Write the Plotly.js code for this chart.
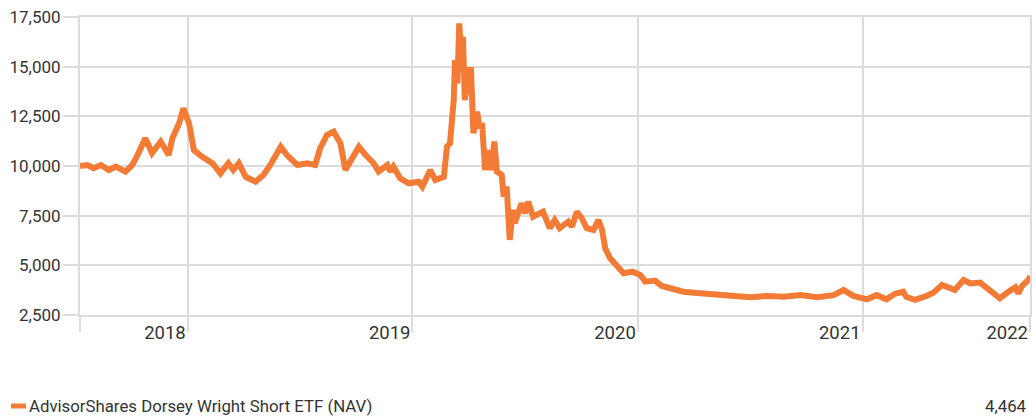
<!DOCTYPE html>
<html>
<head>
<meta charset="utf-8">
<script src="https://cdn.plot.ly/plotly-3.0.1.min.js"></script>
<style>
  html, body { margin: 0; padding: 0; background: #ffffff; }
  #chart { width: 1035px; height: 420px; }
</style>
</head>
<body>
<div id="chart"></div>
<script>
// ---- Data ----
const seriesName = "AdvisorShares Dorsey Wright Short ETF (NAV)";
const lastValueLabel = "4,464";

const navDates = [
  "2018-07-10","2018-07-22","2018-08-01","2018-08-13","2018-08-26","2018-09-06","2018-09-22",
  "2018-10-03","2018-10-13","2018-10-24","2018-11-04","2018-11-18","2018-12-01","2018-12-07",
  "2018-12-18","2018-12-25","2019-01-03","2019-01-11","2019-01-24","2019-02-10","2019-02-23",
  "2019-03-08","2019-03-16","2019-03-25","2019-04-05","2019-04-21","2019-05-04","2019-05-15",
  "2019-06-01","2019-06-11","2019-06-28","2019-07-14","2019-07-27","2019-08-04","2019-08-15",
  "2019-08-26","2019-09-06","2019-09-14","2019-09-22","2019-10-06","2019-10-17","2019-10-30",
  "2019-11-07","2019-11-21","2019-11-26","2019-12-01","2019-12-12","2019-12-26","2020-01-11",
  "2020-01-17","2020-01-30","2020-02-07","2020-02-21","2020-02-26","2020-03-02","2020-03-05",
  "2020-03-08","2020-03-10","2020-03-14","2020-03-17","2020-03-20","2020-03-23","2020-03-26",
  "2020-04-01","2020-04-05","2020-04-09","2020-04-15","2020-04-19","2020-04-23","2020-04-28",
  "2020-05-03","2020-05-08","2020-05-13","2020-05-17","2020-05-25","2020-05-28","2020-06-02",
  "2020-06-07","2020-06-12","2020-06-15","2020-06-26","2020-07-02","2020-07-07","2020-07-15",
  "2020-07-31","2020-08-11","2020-08-19","2020-08-27","2020-09-10","2020-09-16","2020-09-24",
  "2020-10-02","2020-10-10","2020-10-21","2020-10-29","2020-11-04","2020-11-09","2020-11-17",
  "2020-11-28","2020-12-09","2020-12-23","2021-01-05","2021-01-13","2021-01-29","2021-02-09",
  "2021-02-28","2021-03-16","2021-04-12","2021-05-09","2021-06-11","2021-07-03","2021-07-30",
  "2021-08-26","2021-09-22","2021-10-19","2021-11-15","2021-12-01","2021-12-17","2022-01-08",
  "2022-01-24","2022-02-09","2022-02-22","2022-03-08","2022-03-13","2022-03-27","2022-04-12",
  "2022-04-26","2022-05-10","2022-05-20","2022-05-31","2022-06-14","2022-06-25","2022-07-11",
  "2022-07-24","2022-08-12","2022-08-26","2022-09-06","2022-09-11","2022-09-17","2022-09-28",
  "2022-09-30"
];
const navValues = [
  10000,10050,9890,10050,9800,9970,9720,
  10050,10650,11400,10650,11230,10550,11400,
  12150,12900,12150,10800,10470,10140,9630,
  10140,9800,10140,9460,9210,9550,10050,
  10970,10550,10050,10140,10050,10890,11560,
  11730,11140,9800,10220,10970,10550,10140,
  9720,10050,9720,9970,9380,9130,9210,
  8960,9800,9300,9460,10970,11140,11980,
  13320,15330,14160,17180,15660,16500,13320,
  14830,14830,11650,12740,11900,12150,9800,
  10800,9800,11230,9720,9550,8460,8960,
  6280,7790,7120,8120,7620,8200,7450,
  7700,6870,7280,6870,7200,6950,7700,
  7370,6870,6780,7280,6780,5860,5350,
  4930,4600,4680,4510,4180,4230,3960,
  3840,3670,3590,3500,3390,3390,3460,
  3420,3500,3390,3500,3760,3460,3290,
  3500,3290,3560,3670,3420,3260,3420,
  3620,4010,3890,3760,4260,4090,4130,
  3840,3340,3670,3890,3590,3960,4290,
  4464
];

const xTickDates  = ["2018-07-10","2019-01-01","2020-01-01","2021-01-01","2022-01-01","2022-09-30"];
const xTickLabels = ["","2018","2019","2020","2021","2022"];
const yTickValues = [2500,5000,7500,10000,12500,15000,17500];

// ---- Styling ----
const lineColor = "#F47B36";
const gridColor = "#DCDCDC";
const textColor = "#333333";
const fontFamily = "Liberation Sans Narrow, Arial Narrow, Roboto, sans-serif";

const trace = {
  type: "scatter",
  mode: "lines",
  x: navDates,
  y: navValues,
  name: seriesName,
  showlegend: false,
  line: { color: lineColor, width: 6, shape: "linear" },
  hoverinfo: "x+y"
};

const layout = {
  width: 1035,
  height: 420,
  margin: { l: 80, r: 5, t: 17, b: 105 },
  paper_bgcolor: "#ffffff",
  plot_bgcolor: "#ffffff",
  font: { family: fontFamily, color: textColor, size: 18 },
  showlegend: false,
  xaxis: {
    type: "date",
    range: [navDates[0], navDates[navDates.length - 1]],
    tickmode: "array",
    tickvals: xTickDates,
    ticktext: xTickLabels,
    ticklabelposition: "outside left",
    ticks: "outside",
    ticklen: 15,
    tickwidth: 2,
    tickcolor: gridColor,
    showgrid: true,
    gridcolor: gridColor,
    gridwidth: 2,
    showline: true,
    mirror: true,
    linecolor: gridColor,
    linewidth: 2,
    zeroline: false,
    tickfont: { size: 18.5, color: textColor, family: fontFamily },
    fixedrange: true
  },
  yaxis: {
    range: [2500, 17500],
    tickmode: "array",
    tickvals: yTickValues,
    tickformat: ",d",
    ticks: "outside",
    ticklen: 15,
    tickwidth: 2,
    tickcolor: gridColor,
    showgrid: true,
    gridcolor: gridColor,
    gridwidth: 2,
    showline: true,
    mirror: true,
    linecolor: gridColor,
    linewidth: 2,
    zeroline: false,
    ticklabelstandoff: -1,
    tickfont: { size: 17, color: textColor, family: fontFamily },
    fixedrange: true
  },
  shapes: [
    {
      type: "rect", xref: "paper", yref: "paper",
      x0: (11 - 80) / 950, x1: (26 - 80) / 950,
      y0: (315 - 408.5) / 298, y1: (315 - 403.5) / 298,
      fillcolor: lineColor, line: { width: 0 }
    }
  ],
  annotations: [
    {
      xref: "paper", yref: "paper",
      x: (27 - 80) / 950, y: (315 - 406) / 298,
      xanchor: "left", yanchor: "middle",
      text: seriesName, showarrow: false,
      font: { size: 16.8, color: textColor, family: fontFamily }
    },
    {
      xref: "paper", yref: "paper",
      x: (1029 - 80) / 950, y: (315 - 406) / 298,
      xanchor: "right", yanchor: "middle",
      text: lastValueLabel, showarrow: false,
      font: { size: 16.8, color: textColor, family: fontFamily }
    }
  ]
};

Plotly.newPlot("chart", [trace], layout, { displayModeBar: false, staticPlot: true });
</script>
</body>
</html>
